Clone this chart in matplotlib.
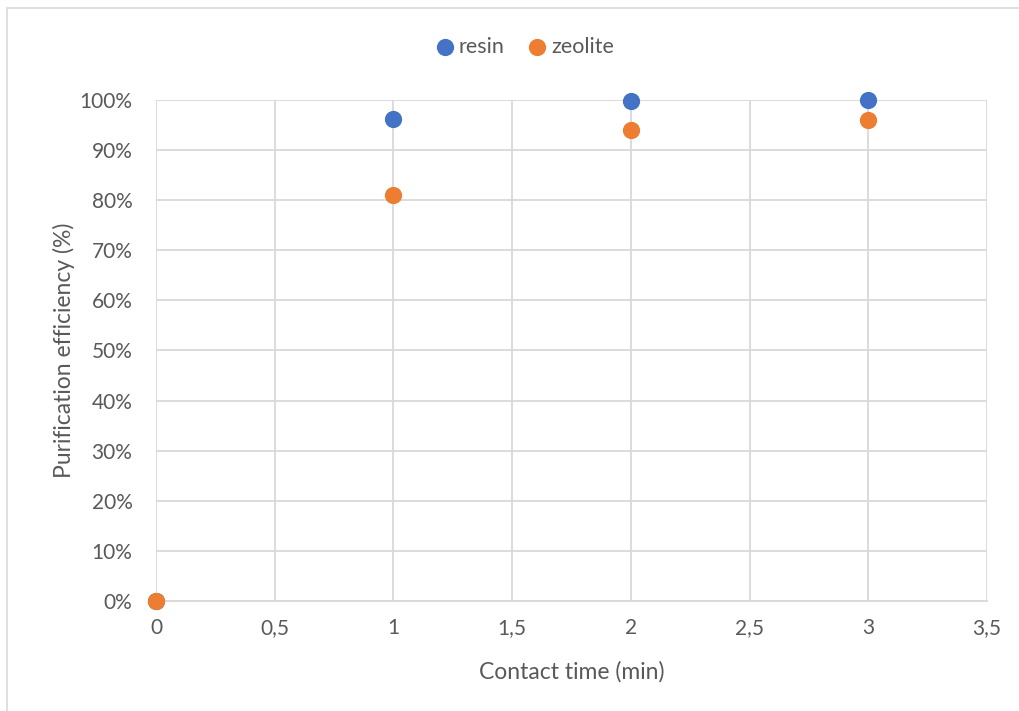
import matplotlib
matplotlib.use('Agg')
import matplotlib.pyplot as plt
from matplotlib.ticker import FuncFormatter, MultipleLocator
from matplotlib.patches import Rectangle

# contact time (min) and purification efficiency (%)
contact_time = [0, 1, 2, 3]
resin = [0, 96.2, 99.8, 100.0]
zeolite = [0, 81.0, 94.0, 96.0]
series_names = ['resin', 'zeolite']

plt.rcParams['font.family'] = ['Lato', 'DejaVu Sans']
text_col = '#595959'
grid_col = '#d9d9d9'

fig = plt.figure(figsize=(10.19, 7.11), dpi=100)
ax = fig.add_axes([156 / 1019, 1 - 601 / 711, (987 - 156) / 1019, (601 - 100) / 711])

# outer chart border
fig.patches.append(Rectangle((7 / 1019, -0.1), 1.2, 1 - 8 / 711 + 0.1,
                             transform=fig.transFigure, fill=False,
                             edgecolor=grid_col, linewidth=1.2))

ax.scatter(contact_time, resin, s=130, color='#4472c4', zorder=3, label=series_names[0])
ax.scatter(contact_time, zeolite, s=130, color='#ed7d31', zorder=3, label=series_names[1])

ax.set_xlim(0, 3.5)
ax.set_ylim(0, 100)
ax.xaxis.set_major_locator(MultipleLocator(0.5))
ax.yaxis.set_major_locator(MultipleLocator(10))
ax.xaxis.set_major_formatter(FuncFormatter(lambda v, p: ('%g' % v).replace('.', ',')))
ax.yaxis.set_major_formatter(FuncFormatter(lambda v, p: '%d%%' % round(v)))

ax.grid(True, color=grid_col, linewidth=1.3)
ax.set_axisbelow(True)
for s in ['top', 'right', 'left']:
    ax.spines[s].set_visible(False)
ax.spines['bottom'].set_color(grid_col)
ax.spines['bottom'].set_linewidth(1.3)
ax.tick_params(length=0, labelsize=15, colors=text_col)
ax.tick_params(axis='x', pad=12)
ax.tick_params(axis='y', pad=17)
for c in ax.collections:
    c.set_clip_on(False)

ax.set_xlabel('Contact time (min)', fontsize=16.5, color=text_col, labelpad=17)
ax.set_ylabel('Purification efficiency (%)', fontsize=16.5, color=text_col, labelpad=3)

leg = fig.legend(loc='center', bbox_to_anchor=(523 / 1019, 1 - 47 / 711), ncol=2,
                 frameon=False, fontsize=15.5, handletextpad=0.05, columnspacing=0.9,
                 handlelength=1.2, markerscale=1.0)
for t in leg.get_texts():
    t.set_color(text_col)

fig.savefig('out.png', dpi=100)
